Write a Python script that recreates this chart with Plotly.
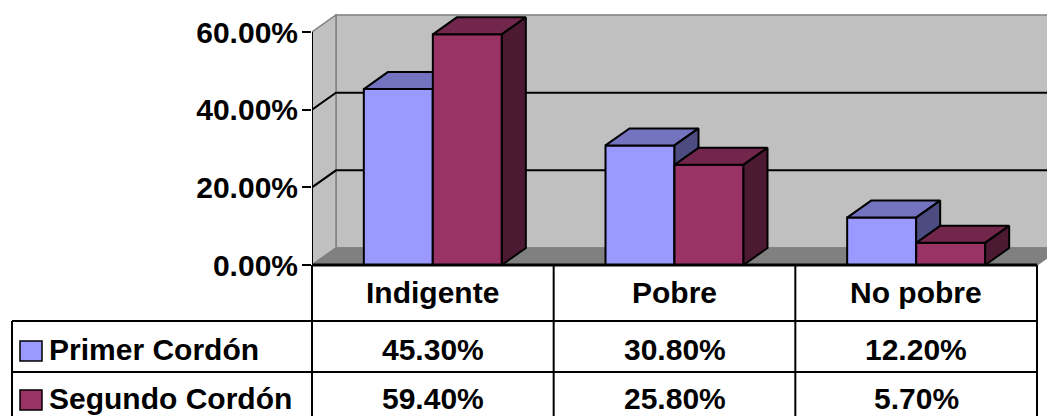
import plotly.graph_objects as go

# ---------------- data ----------------
categories = ["Indigente", "Pobre", "No pobre"]
series_names = ["Primer Cordón", "Segundo Cordón"]
primer_cordon = [45.3, 30.8, 12.2]
segundo_cordon = [59.4, 25.8, 5.7]
y_tick_values = [0, 20, 40, 60]
y_tick_labels = ["0.00%", "20.00%", "40.00%", "60.00%"]

# ---------------- styling / geometry ----------------
front_colors = ["#9999FF", "#993366"]
top_colors = ["#7373BF", "#73264C"]
side_colors = ["#4C4C80", "#4C1933"]
WALL = "#C0C0C0"
FLOOR = "#808080"
EDGE = "#808080"
FONT = "Liberation Sans"
FS = 30

W, H = 1047, 416
X_LEFT = 312      # px of front-left corner of the plot
X_RIGHT = 1037    # px of front-right corner
Y_ZERO = 265      # px of 0 %
Y_TOP = 32        # px of 60 %
px_per_cat = (X_RIGHT - X_LEFT) / 3.0
px_per_pct = (Y_ZERO - Y_TOP) / 60.0
DX = 24 / px_per_cat          # depth (x) in category units
DY = 17 / px_per_pct          # depth (y) in percent units
BAR_W = 69 / px_per_cat       # bar width in category units

x_range = [-0.5, -0.5 + (W - X_LEFT) / px_per_cat]
y_range = [-(H - Y_ZERO) / px_per_pct, Y_ZERO / px_per_pct]


def px_x(p):
    return p / W


def px_y(p):
    return 1 - p / H


fig = go.Figure()

series = [primer_cordon, segundo_cordon]
offsets = [-BAR_W, 0.0]
axes = [("x", "y"), ("x2", "y2")]
xs = list(range(len(categories)))

for s, vals in enumerate(series):
    xa, ya = axes[s]
    fig.add_trace(go.Bar(
        x=xs, y=vals, offset=offsets[s], width=BAR_W,
        marker=dict(color=front_colors[s], line=dict(color="black", width=2)),
        name=series_names[s], showlegend=False, hoverinfo="skip",
        xaxis=xa, yaxis=ya,
    ))
    tx, ty, sx, sy = [], [], [], []
    for i, v in zip(xs, vals):
        x0 = i + offsets[s]
        x1 = x0 + BAR_W
        tx += [x0, x1, x1 + DX, x0 + DX, x0, None]
        ty += [v, v, v + DY, v + DY, v, None]
        sx += [x1, x1 + DX, x1 + DX, x1, x1, None]
        sy += [0, DY, v + DY, v, 0, None]
    fig.add_trace(go.Scatter(
        x=tx, y=ty, mode="lines", fill="toself", fillcolor=top_colors[s],
        line=dict(color="black", width=2), showlegend=False, hoverinfo="skip",
        xaxis=xa, yaxis=ya,
    ))
    fig.add_trace(go.Scatter(
        x=sx, y=sy, mode="lines", fill="toself", fillcolor=side_colors[s],
        line=dict(color="black", width=2), showlegend=False, hoverinfo="skip",
        xaxis=xa, yaxis=ya,
    ))

shapes = []
L, R = -0.5, len(categories) - 0.5
top = y_tick_values[-1]
# back wall
shapes.append(dict(type="path", xref="x", yref="y", layer="below",
                   path=f"M{L+DX},{DY} L{R+DX},{DY} L{R+DX},{top+DY} L{L+DX},{top+DY} Z",
                   fillcolor=WALL, line=dict(color=EDGE, width=1.5)))
# left wall
shapes.append(dict(type="path", xref="x", yref="y", layer="below",
                   path=f"M{L},0 L{L+DX},{DY} L{L+DX},{top+DY} L{L},{top} Z",
                   fillcolor=WALL, line=dict(color=EDGE, width=1.5)))
# floor
shapes.append(dict(type="path", xref="x", yref="y", layer="below",
                   path=f"M{L},0 L{R},0 L{R+DX},{DY} L{L+DX},{DY} Z",
                   fillcolor=FLOOR, line=dict(color=EDGE, width=1.5)))
# gridlines
for g in y_tick_values[1:-1]:
    shapes.append(dict(type="path", xref="x", yref="y", layer="below",
                       path=f"M{L},{g} L{L+DX},{g+DY} L{R+DX},{g+DY}",
                       line=dict(color="black", width=2)))
# value axis line
shapes.append(dict(type="line", xref="x", yref="y", layer="above",
                   x0=L, x1=L, y0=0, y1=top, line=dict(color="black", width=2)))

# ---------------- data table ----------------
ROW_TOPS = [Y_ZERO, 321, 372, 424]
TABLE_LEFT = 12
col_edges = [X_LEFT + k * px_per_cat for k in range(len(categories) + 1)]
line = dict(color="black", width=2)
shapes.append(dict(type="line", xref="paper", yref="paper", x0=px_x(X_LEFT), x1=px_x(X_RIGHT),
                   y0=px_y(Y_ZERO), y1=px_y(Y_ZERO), line=dict(color="black", width=3)))
for rt in ROW_TOPS[1:3]:
    shapes.append(dict(type="line", xref="paper", yref="paper", x0=px_x(TABLE_LEFT), x1=px_x(X_RIGHT),
                       y0=px_y(rt), y1=px_y(rt), line=line))
for ce in col_edges:
    shapes.append(dict(type="line", xref="paper", yref="paper", x0=px_x(ce), x1=px_x(ce),
                       y0=px_y(Y_ZERO), y1=px_y(ROW_TOPS[-1]), line=line))
shapes.append(dict(type="line", xref="paper", yref="paper", x0=px_x(TABLE_LEFT), x1=px_x(TABLE_LEFT),
                   y0=px_y(ROW_TOPS[1]), y1=px_y(ROW_TOPS[-1]), line=line))

font = dict(family=FONT, size=FS, color="black", weight="bold")
annotations = []
row_centers = [292, 349, 398]
for i, c in enumerate(categories):
    annotations.append(dict(x=i, y=px_y(row_centers[0]), xref="x", yref="paper", text=c,
                            showarrow=False, font=font, xanchor="center", yanchor="middle"))
for s, vals in enumerate(series):
    yc = row_centers[s + 1]
    for i, v in enumerate(vals):
        annotations.append(dict(x=i, y=px_y(yc), xref="x", yref="paper", text=f"{v:.2f}%",
                                showarrow=False, font=font, xanchor="center", yanchor="middle"))
    annotations.append(dict(x=px_x(47), y=px_y(yc), xref="paper", yref="paper", text=series_names[s],
                            showarrow=False, font=font, xanchor="left", yanchor="middle"))
    shapes.append(dict(type="rect", xref="paper", yref="paper",
                       x0=px_x(20), x1=px_x(42), y0=px_y(yc - 8), y1=px_y(yc + 12),
                       fillcolor=front_colors[s], line=dict(color="black", width=1.5)))

axis_common = dict(showgrid=False, zeroline=False, showline=False)
fig.update_layout(
    width=W, height=H,
    margin=dict(l=0, r=0, t=0, b=0),
    paper_bgcolor="white", plot_bgcolor="rgba(0,0,0,0)",
    showlegend=False,
    xaxis=dict(domain=[X_LEFT / W, 1], range=x_range, showticklabels=False, ticks="", **axis_common),
    yaxis=dict(domain=[0, 1], range=y_range, tickvals=y_tick_values, ticktext=y_tick_labels,
               ticks="outside", ticklen=9, tickwidth=2, tickcolor="black", ticklabelstandoff=-2,
               tickfont=font, **axis_common),
    xaxis2=dict(domain=[X_LEFT / W, 1], range=x_range, overlaying="x", anchor="y2",
                visible=False, **axis_common),
    yaxis2=dict(domain=[0, 1], range=y_range, overlaying="y", anchor="x2",
                visible=False, **axis_common),
    shapes=shapes,
    annotations=annotations,
)

fig.write_html(
    "out.html",
    config={"displayModeBar": False, "staticPlot": True},
    post_script="document.body.style.margin='0';document.body.style.overflow='hidden';",
)
